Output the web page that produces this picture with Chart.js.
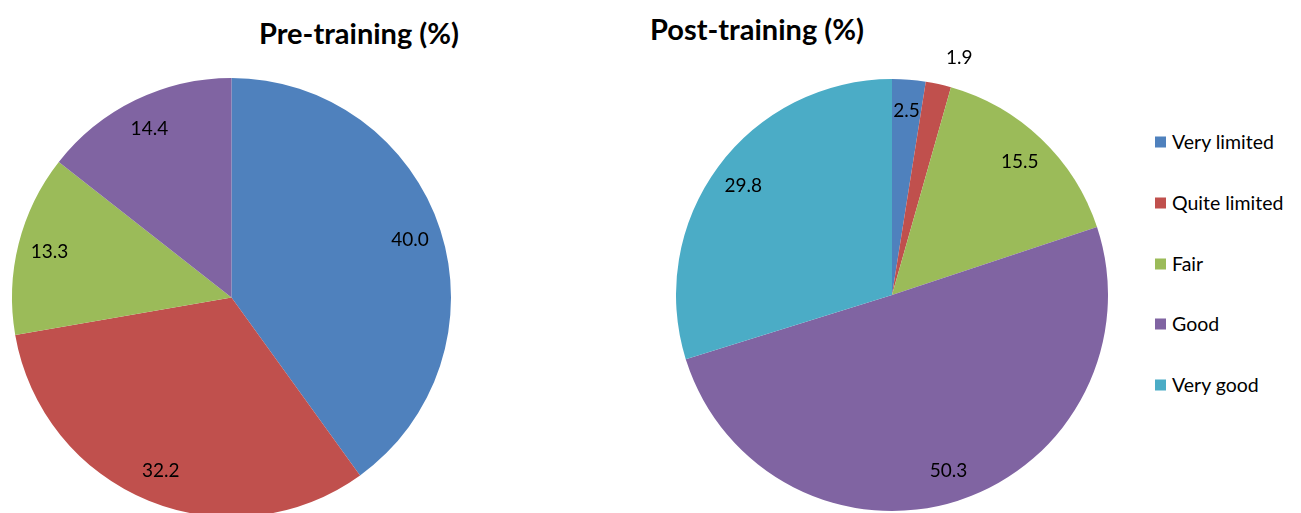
<!DOCTYPE html>
<html>
<head>
<meta charset="utf-8">
<script src="https://cdn.jsdelivr.net/npm/chart.js@4/dist/chart.umd.min.js"></script>
<style>
    body { margin: 0; width: 1301px; height: 513px; overflow: hidden; background: #fff; font-family: Lato, "Open Sans", sans-serif; }
    .title { position: absolute; font-weight: bold; font-size: 29px; color: #000; transform: translate(-50%, -50%); white-space: nowrap; }
    #pre { position: absolute; left: 0; top: 0; }
    #post { position: absolute; left: 676px; top: 0; }
    #legend { position: absolute; left: 1155px; top: 0; }
    .item { position: absolute; left: 0; white-space: nowrap; font-size: 19.5px; color: #000; transform: translateY(-50%); }
    .item span { display: inline-block; width: 11px; height: 11px; margin-right: 6px; vertical-align: 1px; }
</style>
</head>
<body>
<div class="title" style="left:359px; top:32px;">Pre-training (%)</div>
<div class="title" style="left:757px; top:28px;">Post-training (%)</div>
<canvas id="pre" width="463" height="540"></canvas>
<canvas id="post" width="432" height="540"></canvas>
<div id="legend"></div>

<script>
const categories = ['Very limited', 'Quite limited', 'Fair', 'Good', 'Very good'];
const preValues = [40.0, 32.2, 13.3, 14.4];
const postValues = [2.5, 1.9, 15.5, 50.3, 29.8];
const colors = ['#4F81BD', '#C0504D', '#9BBB59', '#8064A2', '#4BACC6'];

// labels drawn on each slice, small slices go outside
const sliceLabels = {
    id: 'sliceLabels',
    afterDatasetsDraw(chart) {
        const ctx = chart.ctx;
        const meta = chart.getDatasetMeta(0);
        const data = chart.data.datasets[0].data;
        ctx.save();
        ctx.font = '19px Lato, "Open Sans", sans-serif';
        ctx.fillStyle = '#000';
        ctx.textAlign = 'center';
        ctx.textBaseline = 'middle';
        meta.data.forEach((arc, i) => {
            const outside = data[i] < 2;
            const ang = outside ? arc.endAngle : (arc.startAngle + arc.endAngle) / 2;
            const r = outside ? arc.outerRadius * 1.14 : arc.outerRadius * 0.855;
            const x = arc.x + Math.cos(ang) * r;
            const y = arc.y + Math.sin(ang) * r;
            ctx.fillText(data[i].toFixed(1), x, y);
        });
        ctx.restore();
    }
};

function makePie(el, values, padding) {
    return new Chart(document.querySelector(el).getContext('2d'), {
        type: 'pie',
        data: {
            labels: categories.slice(0, values.length),
            datasets: [{
                data: values,
                backgroundColor: colors.slice(0, values.length),
                borderWidth: 0,
                hoverOffset: 0
            }]
        },
        options: {
            responsive: false,
            animation: false,
            layout: { padding: padding },
            plugins: { legend: { display: false }, tooltip: { enabled: false } }
        },
        plugins: [sliceLabels]
    });
}

makePie('#pre', preValues, { left: 12, right: 12, top: 78, bottom: 23 });
makePie('#post', postValues, { left: 0, right: 0, top: 79, bottom: 29 });

// legend
const legend = document.querySelector('#legend');
const legendY = [141, 202, 263, 323, 384];
categories.forEach((c, i) => {
    const d = document.createElement('div');
    d.className = 'item';
    d.style.top = legendY[i] + 'px';
    d.innerHTML = '<span style="background:' + colors[i] + '"></span>' + c;
    legend.appendChild(d);
});
</script>
</body>
</html>
